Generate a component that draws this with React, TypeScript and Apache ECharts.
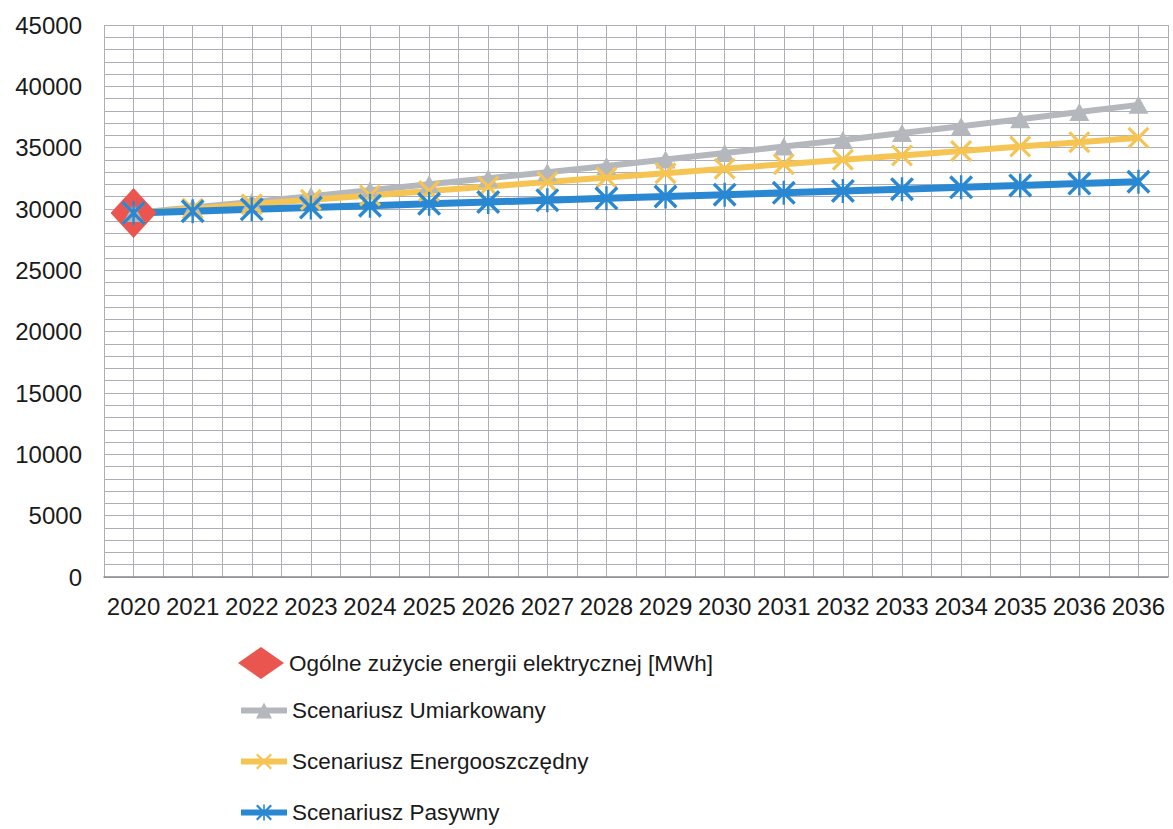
import React, { useEffect, useRef } from "react";
import * as echarts from "echarts";

// Years on the category axis (the last label repeats, as in the source table)
const years = [
  "2020", "2021", "2022", "2023", "2024", "2025", "2026", "2027", "2028",
  "2029", "2030", "2031", "2032", "2033", "2034", "2035", "2036", "2036",
];

// Base-year total consumption [MWh]
const baseConsumption = [29670];

// Scenario forecasts [MWh]
const moderate = [
  29670, 30120, 30580, 31050, 31530, 32010, 32500, 33000, 33510,
  34030, 34560, 35090, 35630, 36190, 36750, 37320, 37900, 38490,
];
const energySaving = [
  29670, 30030, 30390, 30750, 31110, 31470, 31830, 32200, 32560,
  32920, 33290, 33650, 34010, 34370, 34730, 35090, 35450, 35810,
];
const passive = [
  29670, 29820, 29970, 30120, 30270, 30420, 30570, 30720, 30870,
  31020, 31170, 31320, 31470, 31620, 31770, 31920, 32070, 32220,
];

const names = [
  "Ogólne zużycie energii elektrycznej [MWh]",
  "Scenariusz Umiarkowany",
  "Scenariusz Energooszczędny",
  "Scenariusz Pasywny",
];

const FONT = "'Liberation Sans', Arial, sans-serif";
const GRID_COLOR = "#aeaeb6";

const crossSymbol =
  "path://M2,0 L20,18 L18,20 L0,2 Z M18,0 L20,2 L2,20 L0,18 Z";
const starSymbol =
  "path://M2,0 L20,18 L18,20 L0,2 Z M18,0 L20,2 L2,20 L0,18 Z M9,0 L11,0 L11,20 L9,20 Z";

export default function App() {
  const ref = useRef<HTMLDivElement>(null);

  useEffect(() => {
    if (!ref.current) return;
    const chart = echarts.init(ref.current, undefined, { renderer: "svg" });

    chart.setOption({
      animation: false,
      backgroundColor: "#ffffff",
      textStyle: { fontFamily: FONT },
      grid: { left: 104, right: 5, top: 25, bottom: 252, containLabel: false },
      legend: [
        {
          data: [names[0]],
          orient: "vertical",
          left: 238,
          top: 647,
          padding: 0,
          itemWidth: 46,
          itemHeight: 32,
          symbolKeepAspect: false,
          icon: "diamond",
          textStyle: { fontSize: 22.5, color: "#1a1a1a", fontFamily: FONT },
        },
        {
          data: names.slice(1),
          orient: "vertical",
          left: 238,
          top: 699,
          height: 200,
          padding: 0,
          itemWidth: 46,
          itemHeight: 20,
          itemGap: 28,
          lineStyle: { width: 6 },
          textStyle: {
            fontSize: 22.5,
            lineHeight: 22,
            color: "#1a1a1a",
            fontFamily: FONT,
          },
        },
      ],
      xAxis: [
        {
          type: "category",
          data: years,
          boundaryGap: true,
          axisLine: { show: true, lineStyle: { color: "#8a8a90", width: 1.5 } },
          axisTick: { show: false },
          splitLine: { show: false },
          axisLabel: {
            interval: 0,
            fontSize: 24,
            color: "#1a1a1a",
            fontFamily: FONT,
            margin: 17,
          },
        },
        {
          // finer vertical grid: category boundaries and centres
          type: "value",
          min: 0,
          max: 36,
          interval: 1,
          position: "bottom",
          axisLine: { show: false },
          axisTick: { show: false },
          axisLabel: { show: false },
          splitLine: { show: true, lineStyle: { color: GRID_COLOR, width: 1 } },
        },
      ],
      yAxis: {
        type: "value",
        min: 0,
        max: 45000,
        interval: 5000,
        axisLine: { show: false },
        axisTick: { show: false },
        axisLabel: {
          fontSize: 24,
          color: "#1a1a1a",
          fontFamily: FONT,
          margin: 22,
          formatter: (v: number) => String(v),
        },
        splitLine: { show: true, lineStyle: { color: GRID_COLOR, width: 1 } },
        minorTick: { show: false, splitNumber: 5 },
        minorSplitLine: { show: true, lineStyle: { color: GRID_COLOR, width: 1 } },
      },
      series: [
        {
          name: names[0],
          type: "line",
          xAxisIndex: 0,
          data: baseConsumption,
          symbol: "diamond",
          symbolSize: [46, 50],
          itemStyle: { color: "#ea5550" },
          lineStyle: { color: "#ea5550", width: 2 },
        },
        {
          name: names[1],
          type: "line",
          xAxisIndex: 0,
          data: moderate,
          symbol: "triangle",
          symbolSize: [20, 18],
          itemStyle: { color: "#b4b8bd" },
          lineStyle: { color: "#b4b8bd", width: 6 },
        },
        {
          name: names[2],
          type: "line",
          xAxisIndex: 0,
          data: energySaving,
          symbol: crossSymbol,
          symbolSize: 22,
          itemStyle: { color: "#f6c453" },
          lineStyle: { color: "#f6c453", width: 6 },
        },
        {
          name: names[3],
          type: "line",
          xAxisIndex: 0,
          data: passive,
          symbol: starSymbol,
          symbolSize: 24,
          itemStyle: { color: "#2a88d2" },
          lineStyle: { color: "#2a88d2", width: 7 },
        },
      ],
    });

    return () => chart.dispose();
  }, []);

  return (
    <div
      ref={ref}
      style={{ position: "absolute", left: 0, top: 0, width: 1173, height: 829 }}
    />
  );
}
